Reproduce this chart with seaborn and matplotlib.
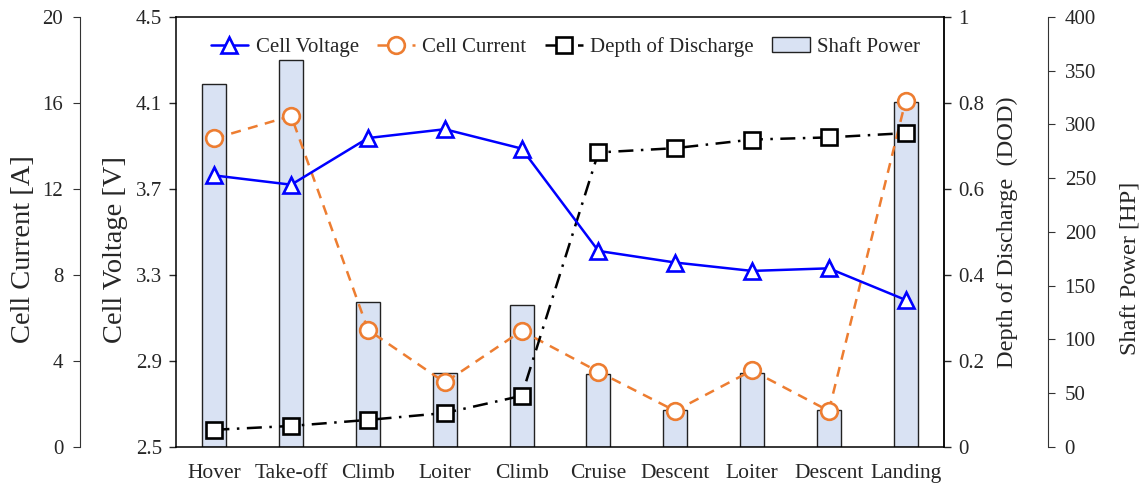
import numpy as np
import pandas as pd
import matplotlib
matplotlib.use("Agg")
import matplotlib.pyplot as plt
import seaborn as sns
from matplotlib.ticker import FuncFormatter

# ---------------- data ----------------
phases = ["Hover", "Take-off", "Climb", "Loiter", "Climb",
          "Cruise", "Descent", "Loiter", "Descent", "Landing"]
cell_voltage = [3.763, 3.720, 3.937, 3.978, 3.888, 3.412, 3.358, 3.319, 3.331, 3.184]
cell_current = [14.35, 15.40, 5.45, 3.00, 5.40, 3.50, 1.68, 3.56, 1.68, 16.10]
depth_of_discharge = [0.040, 0.049, 0.063, 0.079, 0.119, 0.685, 0.695, 0.715, 0.720, 0.730]
shaft_power = [338, 360, 134.5, 69, 132.5, 68, 34.5, 68.5, 34.5, 320.5]

voltage_ticks = [2.5, 2.9, 3.3, 3.7, 4.1, 4.5]
current_ticks = [0, 4, 8, 12, 16, 20]
dod_ticks = [0, 0.2, 0.4, 0.6, 0.8, 1.0]
power_ticks = [0, 50, 100, 150, 200, 250, 300, 350, 400]

df = pd.DataFrame({
    "pos": np.arange(len(phases)),
    "phase": phases,
    "voltage": cell_voltage,
    "current": cell_current,
    "dod": depth_of_discharge,
    "power": shaft_power,
})

# ---------------- style ----------------
sns.set_style("ticks")
plt.rcParams["font.family"] = ["Liberation Serif", "DejaVu Serif"]
plt.rcParams["font.size"] = 15
FS = 15
FS_LEFT_LABEL = 20.5
FS_RIGHT_LABEL = 17.6

fig = plt.figure(figsize=(11.42, 4.83), dpi=100)
ax_v = fig.add_axes([176 / 1142, 36 / 483, 768 / 1142, 430 / 483])
ax_c = ax_v.twinx()
ax_d = ax_v.twinx()
ax_p = ax_v.twinx()

# layering: bars at back
ax_p.set_zorder(1)
ax_c.set_zorder(2)
ax_d.set_zorder(3)
ax_v.set_zorder(4)
for a in (ax_c, ax_d, ax_v):
    a.patch.set_visible(False)
ax_p.patch.set_visible(True)
ax_p.patch.set_facecolor("white")

BLUE = "#0000FF"
ORANGE = "#ED7D31"
BAR = "#D9E2F3"

# bars (shaft power)
sns.barplot(data=df, x="pos", y="power", ax=ax_p, color=BAR, width=0.31,
            edgecolor="#222222", linewidth=1.0, saturation=1)

# lines
sns.lineplot(data=df, x="pos", y="voltage", ax=ax_v, color=BLUE, linewidth=1.8,
             marker="^", markersize=12, markerfacecolor="white",
             markeredgecolor=BLUE, markeredgewidth=1.9)
sns.lineplot(data=df, x="pos", y="current", ax=ax_c, color=ORANGE, linewidth=1.8,
             linestyle=(0, (4, 3)),
             marker="o", markersize=12, markerfacecolor="white",
             markeredgecolor=ORANGE, markeredgewidth=1.9)
sns.lineplot(data=df, x="pos", y="dod", ax=ax_d, color="black", linewidth=1.8,
             linestyle=(0, (6, 3, 1, 3)),
             marker="s", markersize=11, markerfacecolor="white",
             markeredgecolor="black", markeredgewidth=1.9)

for a in (ax_v, ax_c, ax_d, ax_p):
    a.set_xlim(-0.5, len(phases) - 0.5)
    a.set_xlabel("")
    a.set_ylabel("")

# ---------- voltage (host) axis ----------
ax_v.set_ylim(2.5, 4.5)
ax_v.set_yticks(voltage_ticks)
ax_v.yaxis.set_major_formatter(FuncFormatter(lambda v, p: f"{v:.1f}"))
ax_v.set_xticks(df["pos"])
ax_v.set_xticklabels(phases, fontsize=15.5)
ax_v.tick_params(axis="x", length=0, pad=12)
ax_v.tick_params(axis="y", direction="out", length=5, width=1, pad=5, labelsize=FS)
for s in ax_v.spines.values():
    s.set_linewidth(1.1)
    s.set_color("black")
ax_v.set_ylabel("Cell Voltage [V]", fontsize=FS_LEFT_LABEL)
ax_v.yaxis.set_label_coords(-0.0625, 0.46)

# ---------- current axis (outer left) ----------
ax_c.set_ylim(0, 20)
ax_c.set_yticks(current_ticks)
ax_c.yaxis.set_ticks_position("left")
ax_c.yaxis.set_label_position("left")
ax_c.spines["left"].set_position(("axes", -0.125))
ax_c.spines["left"].set_visible(True)
for k in ("right", "top", "bottom"):
    ax_c.spines[k].set_visible(False)
ax_c.spines["left"].set_linewidth(0.8)
ax_c.spines["left"].set_color("#333333")
ax_c.tick_params(axis="y", direction="out", length=5, width=0.8, pad=7,
                 labelsize=FS, color="#333333")
ax_c.set_ylabel("Cell Current [A]", fontsize=FS_LEFT_LABEL)
ax_c.yaxis.set_label_coords(-0.182, 0.46)

# ---------- DOD axis (right) ----------
ax_d.set_ylim(0, 1)
ax_d.set_yticks(dod_ticks)
ax_d.yaxis.set_major_formatter(FuncFormatter(lambda v, p: f"{v:g}"))
for k in ("left", "top", "bottom"):
    ax_d.spines[k].set_visible(False)
ax_d.spines["right"].set_linewidth(1.1)
ax_d.tick_params(axis="y", direction="out", length=5, width=1, pad=5, labelsize=FS)
ax_d.set_ylabel("Depth of Discharge  (DOD)", fontsize=FS_RIGHT_LABEL)
ax_d.yaxis.set_label_coords(1.069, 0.5)

# ---------- shaft power axis (outer right) ----------
ax_p.set_ylim(0, 400)
ax_p.set_yticks(power_ticks)
ax_p.spines["right"].set_position(("axes", 1.1354))
for k in ("left", "top", "bottom"):
    ax_p.spines[k].set_visible(False)
ax_p.spines["right"].set_linewidth(0.8)
ax_p.spines["right"].set_color("#333333")
ax_p.tick_params(axis="y", direction="out", length=5, width=0.8, pad=7,
                 labelsize=FS, color="#333333")
ax_p.tick_params(axis="x", bottom=False, labelbottom=False)
ax_p.set_ylabel("Shaft Power [HP]", fontsize=FS_RIGHT_LABEL)
ax_p.yaxis.set_label_coords(1.228, 0.415)

for a in (ax_v, ax_c, ax_d, ax_p):
    leg = a.get_legend()
    if leg is not None:
        leg.remove()

# ---------- legend ----------
handles = [ax_v.lines[0], ax_c.lines[0], ax_d.lines[0], ax_p.patches[0]]
labels = ["Cell Voltage", "Cell Current", "Depth of Discharge", "Shaft Power"]
ax_v.legend(handles, labels, loc="center", bbox_to_anchor=(0.507, 0.93),
            ncol=4, frameon=False, fontsize=FS, handlelength=1.8,
            handletextpad=0.35, columnspacing=0.9, borderaxespad=0)

fig.savefig("out.png", dpi=100)
